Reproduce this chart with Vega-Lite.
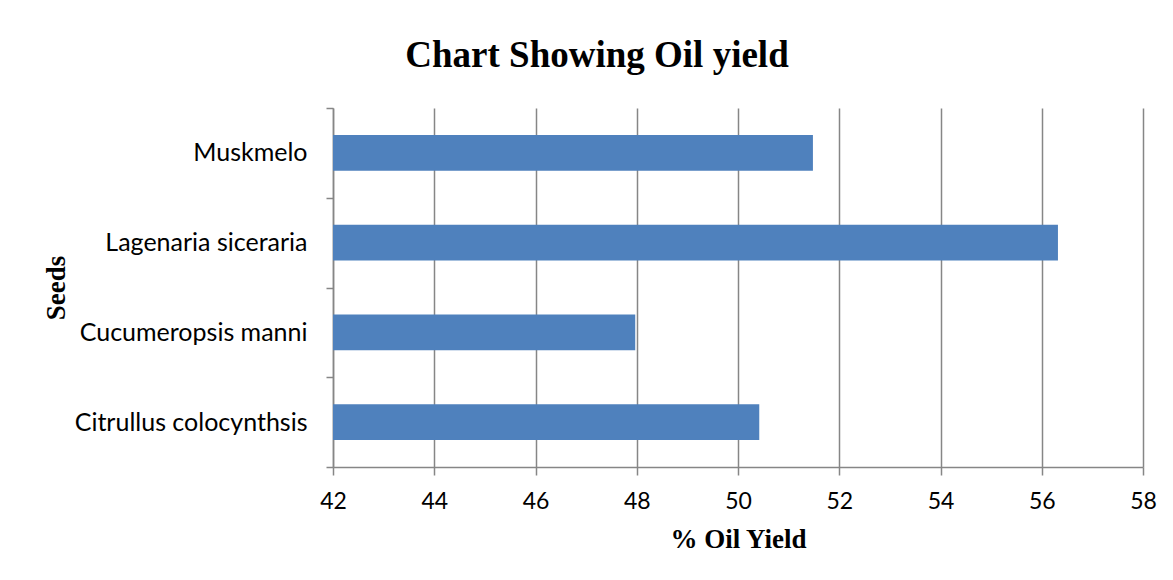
{
  "$schema": "https://vega.github.io/schema/vega-lite/v6.json",
  "autosize": {"type": "none"},
  "width": 810,
  "height": 359,
  "padding": {"left": 333, "top": 108, "right": 30, "bottom": 113},
  "background": "white",
  "title": {
    "text": "Chart Showing Oil yield",
    "font": "Liberation Serif",
    "fontSize": 37,
    "fontWeight": "bold",
    "color": "black",
    "anchor": "middle",
    "frame": "group",
    "dx": -141,
    "offset": -8,
    "baseline": "alphabetic"
  },
  "data": {
    "values": [
      {"seed": "Muskmelo", "yield": 51.48},
      {"seed": "Lagenaria siceraria", "yield": 56.32},
      {"seed": "Cucumeropsis manni", "yield": 47.97},
      {"seed": "Citrullus colocynthsis", "yield": 50.42}
    ]
  },
  "mark": {"type": "bar", "color": "#4F81BD", "height": {"band": 0.4}, "clip": true},
  "encoding": {
    "y": {
      "field": "seed",
      "type": "nominal",
      "sort": ["Muskmelo", "Lagenaria siceraria", "Cucumeropsis manni", "Citrullus colocynthsis"],
      "scale": {"paddingInner": 0, "paddingOuter": 0},
      "axis": {
        "title": "Seeds",
        "titleFont": "Liberation Serif",
        "titleFontSize": 27,
        "titleFontWeight": "bold",
        "titleColor": "black",
        "titlePadding": 63,
        "labelFont": "Lato",
        "labelFontSize": 25,
        "labelColor": "black",
        "labelPadding": 19,
        "labelLimit": 500,
        "tickBand": "extent",
        "tickSize": 7,
        "tickColor": "#868686",
        "tickWidth": 1.5,
        "domainColor": "#868686",
        "domainWidth": 1.5,
        "grid": false
      }
    },
    "x": {
      "field": "yield",
      "type": "quantitative",
      "scale": {"domain": [42, 58], "zero": false, "nice": false},
      "axis": {
        "title": "% Oil Yield",
        "titleFont": "Liberation Serif",
        "titleFontSize": 27,
        "titleFontWeight": "bold",
        "titleColor": "black",
        "titlePadding": 13,
        "values": [42, 44, 46, 48, 50, 52, 54, 56, 58],
        "labelFont": "Lato",
        "labelFontSize": 23,
        "labelColor": "black",
        "labelPadding": 15,
        "labelFlush": false,
        "tickSize": 8,
        "tickColor": "#868686",
        "tickWidth": 1.5,
        "domainColor": "#868686",
        "domainWidth": 1.5,
        "grid": true,
        "gridColor": "#868686",
        "gridWidth": 1.5,
        "gridOpacity": 1
      }
    }
  },
  "config": {"view": {"stroke": null}}
}
